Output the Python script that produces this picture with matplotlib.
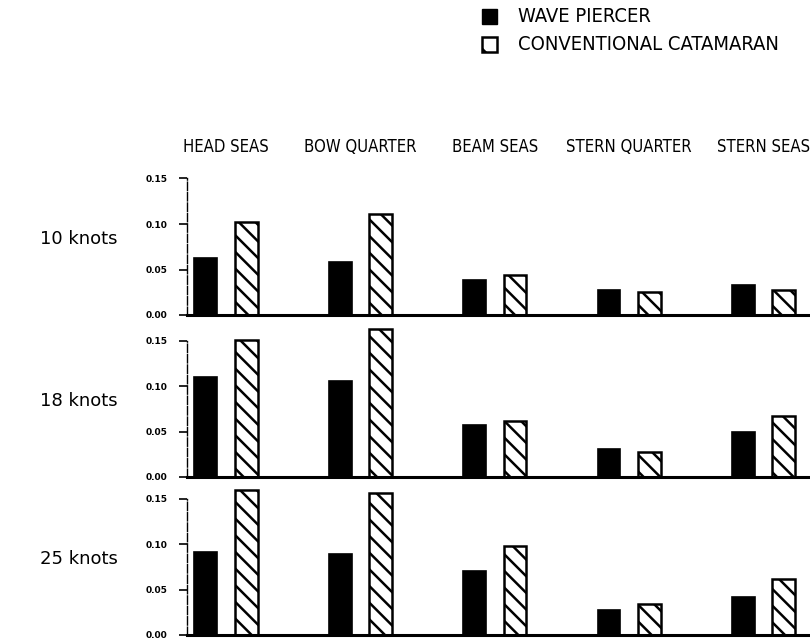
import numpy as np
import matplotlib
matplotlib.use('Agg')
import matplotlib.pyplot as plt

# data
categories = ['HEAD SEAS', 'BOW QUARTER', 'BEAM SEAS', 'STERN QUARTER', 'STERN SEAS']
speeds = ['10 knots', '18 knots', '25 knots']
wave_piercer_10 = [0.063, 0.058, 0.038, 0.027, 0.033]
catamaran_10 = [0.102, 0.111, 0.044, 0.025, 0.027]
wave_piercer_18 = [0.110, 0.105, 0.057, 0.031, 0.050]
catamaran_18 = [0.151, 0.163, 0.061, 0.028, 0.067]
wave_piercer_25 = [0.091, 0.089, 0.070, 0.028, 0.042]
catamaran_25 = [0.159, 0.156, 0.098, 0.034, 0.061]
y_ticks = [0.00, 0.05, 0.10, 0.15]
y_tick_labels = ['0.00', '0.05', '0.10', '0.15']

wave_piercer = [wave_piercer_10, wave_piercer_18, wave_piercer_25]
catamaran = [catamaran_10, catamaran_18, catamaran_25]

plt.rcParams['hatch.linewidth'] = 1.8

W, H = 810, 641
fig = plt.figure(figsize=(W / 100, H / 100), dpi=100)

# layout in pixels
baselines = [315, 477, 635]
px_per_unit = 910.0
y_top = 0.17
x_left, x_right = 187, 808
x_min, x_max = -0.29, 4.33

x = np.arange(len(categories))
width = 0.17
offset = 0.15

for i, speed in enumerate(speeds):
    b = baselines[i]
    ax = fig.add_axes([x_left / W, (H - b) / H, (x_right - x_left) / W,
                       y_top * px_per_unit / H])
    ax.bar(x - offset, wave_piercer[i], width, color='black', edgecolor='black',
           linewidth=1.2)
    ax.bar(x + offset, catamaran[i], width, color='white', edgecolor='black',
           linewidth=1.8, hatch='\\\\')
    ax.set_xlim(x_min, x_max)
    ax.set_ylim(0, y_top)
    ax.spines['top'].set_visible(False)
    ax.spines['right'].set_visible(False)
    ax.spines['left'].set_bounds(0, 0.15)
    ax.spines['left'].set_linewidth(1.0)
    ax.spines['left'].set_linestyle((0, (6, 1.5)))
    ax.spines['bottom'].set_linewidth(2.2)
    ax.set_xticks([])
    ax.set_yticks(y_ticks)
    ax.set_yticklabels(y_tick_labels, fontsize=6.5, fontweight='bold')
    ax.tick_params(axis='y', length=6, width=1.2, pad=8)
    ax.patch.set_alpha(0)

    fig.text(40 / W, 1 - (b - 76) / H, speed, fontsize=13, va='center', ha='left')

    if i == 0:
        for cx, cat in zip(x, categories):
            ax.text(cx, 0.15 + 22 / px_per_unit, cat, ha='center', va='bottom',
                    fontsize=12, fontstretch='condensed')

# legend drawn as patches
leg = fig.add_axes([0, 0, 1, 1])
leg.set_xlim(0, W)
leg.set_ylim(H, 0)
leg.axis('off')
leg.add_patch(plt.Rectangle((482, 9), 15, 15, facecolor='black', edgecolor='black'))
leg.add_patch(plt.Rectangle((482, 37), 15, 15, facecolor='white', edgecolor='black',
                            linewidth=1.8, hatch='\\'))
leg.text(518, 17, 'WAVE PIERCER', fontsize=14.5, va='center', fontstretch='condensed')
leg.text(518, 45, 'CONVENTIONAL CATAMARAN', fontsize=14.5, va='center',
         fontstretch='condensed')

plt.savefig('out.png', dpi=100)
